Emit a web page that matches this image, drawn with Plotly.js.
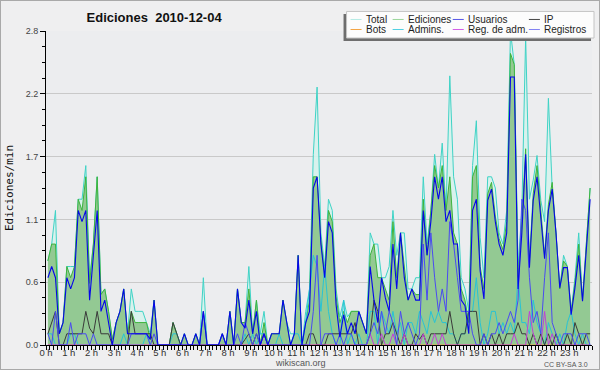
<!DOCTYPE html>
<html>
<head>
<meta charset="utf-8">
<script src="https://cdn.plot.ly/plotly-3.0.1.min.js"></script>
<style>
  html, body { margin: 0; padding: 0; background: #efeff0; }
  #wrap { position: absolute; left: 0; top: 0; width: 598px; height: 368px; border: 1px solid #a9a9a9; }
  #chart { width: 598px; height: 368px; }
</style>
</head>
<body>
<div id="wrap"><div id="chart"></div></div>
<script>
// ---- data: one value per 10-minute slot (edits per minute), 24 h x 6 slots ----
const hourLabels = ["0 h","1 h","2 h","3 h","4 h","5 h","6 h","7 h","8 h","9 h","10 h","11 h",
                    "12 h","13 h","14 h","15 h","16 h","17 h","18 h","19 h","20 h","21 h","22 h","23 h"];
const yTickVals = [0, 0.56, 1.12, 1.68, 2.24, 2.8];
const yTickText = ["0.0", "0.6", "1.1", "1.7", "2.2", "2.8"];

const total = [
  0.75,0.9,1.2,0.1,0.2,0.7,   0.7,0.7,1.3,1.3,1.6,0.6,   0.9,1.5,0.45,0.5,0.3,0.05,
  0.2,0.3,0.5,0.1,0.5,0.3,    0.3,0.3,0.2,0.1,0.4,0,     0,0,0,0.2,0.1,0,
  0.1,0,0,0.1,0,0.6,          0,0,0,0,0.1,0,             0.3,0,0.5,0.2,0.2,0.7,
  0.1,0.4,0.1,0.3,0,0.1,      0.1,0.1,0.4,0.2,0.1,0.1,   0.8,0,0.3,0.5,1.7,2.3,
  1.0,0.7,1.3,1.2,0.5,0.25,   0.4,0.25,0.3,0.3,0.3,0.2,  0.1,1.0,0.9,0.9,0.6,0.6,
  0.7,1.2,0.8,1.0,1.0,0.5,    0.5,0.6,0.6,1.5,0.9,1.2,   1.7,1.4,1.8,1.2,2.4,1.5,
  1.3,0.6,0.5,0.3,1.6,2.0,    0.96,0.6,1.5,1.5,1.4,1.0,  0.9,1.2,2.8,2.5,0.7,1.2,
  2.75,1.3,1.47,1.69,1.29,1.1, 2.2,1.4,1.0,0.5,0.8,0.7,  0.3,0.6,1.0,0.4,0.9,1.4
];
const ediciones = [
  0.75,0.9,0.9,0.1,0.2,0.7,   0.6,0.7,1.3,1.2,1.5,0.55,  0.9,1.5,0.45,0.5,0.3,0.05,
  0.2,0.3,0.5,0.1,0.3,0.2,    0.2,0.2,0.2,0.05,0.4,0,    0,0,0,0.2,0.1,0,
  0.1,0,0,0.1,0,0.3,          0,0,0,0,0.1,0,             0.3,0,0.5,0.2,0.2,0.5,
  0.1,0.4,0,0.2,0,0.1,        0.1,0.1,0.4,0.2,0,0.1,     0.8,0,0.2,0.4,1.5,1.5,
  0.93,0.63,1.2,1.1,0.43,0.2, 0.3,0.2,0.3,0.3,0.3,0.2,   0.1,0.8,0.9,0.6,0.6,0.5,
  0.4,1.1,0.6,1.0,0.7,0.4,    0.5,0.45,0.45,1.3,0.8,1.2, 1.6,1.4,1.6,1.2,1.5,1.0,
  0.9,0.5,0.4,0.2,1.5,1.6,    0.7,0.5,1.35,1.45,1.15,0.95, 0.85,1.1,2.6,2.5,0.6,1.1,
  1.75,0.75,1.35,1.6,1.2,0.8, 1.25,1.45,1.0,0.5,0.75,0.7, 0.3,0.55,0.9,0.4,0.9,1.4
];
const usuarios = [
  0.6,0.7,0.6,0.1,0.2,0.6,    0.5,0.6,1.2,1.1,1.2,0.4,   0.8,1.2,0.3,0.4,0.2,0,
  0.2,0.3,0.5,0.1,0.1,0.1,    0.1,0.1,0.1,0.05,0.4,0,    0,0,0,0,0,0,
  0.1,0,0,0.1,0,0.3,          0,0,0,0,0.1,0,             0.3,0,0.5,0.2,0.15,0.4,
  0.1,0.3,0,0.1,0,0.1,        0.1,0.1,0.4,0.2,0,0.1,     0.8,0,0.2,0.3,1.4,1.5,
  0.9,0.6,1.1,1.0,0.36,0.07,  0.27,0.1,0.2,0.1,0.3,0.2,  0.1,0.7,0.4,0.2,0.6,0.42,
  0.3,0.9,0.5,1.0,0.6,0.4,    0.5,0.4,0.4,1.2,0.8,1.1,   1.5,1.3,1.5,1.1,1.2,0.9,
  0.9,0.4,0.35,0.1,1.2,1.3,   0.66,0.41,1.29,1.39,1.1,0.9, 0.8,1.0,2.39,2.39,0.5,1.0,
  1.7,0.69,1.29,1.5,1.1,0.77, 1.2,1.39,1.0,0.51,0.69,0.69, 0.27,0.51,0.8,0.39,0.85,1.3
];
const ip = [
  0.1,0.2,0.3,0,0,0.1,        0.1,0.1,0.1,0.1,0.3,0.15,  0.1,0.3,0.1,0.1,0.1,0,
  0,0,0,0,0.3,0.1,            0.1,0.1,0.1,0.1,0,0,       0,0,0,0.2,0.1,0,
  0,0,0,0,0,0,                0,0,0,0,0,0,               0,0,0,0,0.05,0.1,
  0,0.1,0,0.1,0,0,            0,0,0,0,0,0,               0,0,0,0.1,0.1,0,
  0,0,0.1,0.1,0.1,0.1,        0.1,0.1,0.1,0.2,0,0,       0,0.1,0.4,0.3,0,0.1,
  0.1,0.2,0.1,0,0.1,0,        0,0.1,0.05,0.1,0,0.1,      0.1,0.1,0.1,0.1,0.3,0.1,
  0,0.1,0.1,0.3,0.3,0.3,      0,0.1,0,0.1,0,0.1,         0,0.1,0.1,0.1,0.2,0.1,
  0.1,0,0.1,0,0.1,0,          0.1,0,0.1,0,0,0.1,         0,0.2,0.1,0,0.1,0.1
];
const bots = new Array(144).fill(0);
const admins = [
  0.1,0.1,0,0,0,0,            0.1,0.1,0,0,0,0,           0,0,0,0,0,0,
  0,0,0.1,0,0,0,              0,0,0.1,0,0,0,             0,0,0,0.1,0.1,0,
  0,0,0,0,0,0,                0,0,0,0,0,0,               0,0,0,0,0.1,0,
  0.1,0,0.1,0.1,0,0,          0,0.1,0,0,0,0.1,           0.1,0,0.2,0.5,0.8,0.7,
  0.3,0.7,0.3,0.1,0,0,        0.4,0,0.1,0,0.1,0,         0,0.3,0.3,0,0.3,0.2,
  0.1,0.3,0.1,0.2,0,0.2,      0.2,0.1,0.3,0.2,0.1,0.3,   0.2,0.3,0.2,0.2,0.1,0.1,
  0,0.1,0.1,0.3,0.3,0.6,      0.2,0,0.1,0.3,0.3,0.1,     0.2,0.1,0.2,0.1,0.6,0.2,
  0.2,0.1,0.4,0.2,0.1,0,      0.2,0.1,0,0.1,0,0.2,       0.3,0.1,0,0.1,0,0
];
const regAdm = [
  0,0,0,0,0,0, 0,0,0,0,0,0, 0,0,0,0,0,0, 0,0,0,0,0,0, 0,0,0,0,0,0, 0,0,0,0,0,0,
  0,0,0,0,0,0, 0,0,0,0,0,0, 0,0,0,0,0,0, 0,0,0,0,0,0, 0,0,0,0,0,0, 0,0,0,0,0,0,
  0,0,0,0,0,0, 0,0,0,0,0,0, 0,0.1,0,0,0.1,0, 0,0.1,0,0,0.1,0, 0,0,0,0.1,0,0, 0.1,0,0.1,0,0,0,
  0,0,0,0,0,0, 0,0,0,0,0,0, 0,0,0,0.1,0,0, 0,0.3,0.1,0,0,0.3, 0,0.1,0,0,0,0, 0,0,0,0,0,0
];
const registros = [
  0.1,0,0.3,0,0,0,            0.2,0,0.1,0.1,0.1,0,       0.1,0,0,0,0,0,
  0,0,0,0,0.1,0.1,            0.1,0.1,0.1,0,0.1,0,       0,0,0,0,0,0,
  0,0,0,0,0,0.3,              0,0,0,0,0.1,0,             0,0,0.1,0,0.2,0.1,
  0,0.1,0,0.1,0,0,            0,0,0,0,0,0,               0,0,0,0,0.3,0.8,
  0,0.1,0.1,0.1,0,0.1,        0,0.1,0.1,0,0,0,           0,0.1,0.2,0.1,0.3,0.1,
  0.3,0.2,0,0.3,0.1,0.2,      0.1,0,0.1,0.9,0.4,1.0,     0.6,0.3,0.5,0.3,1.1,0.9,
  0.6,0.3,0.3,0.3,0.1,0,      0,0.1,0,0.1,0.1,0.2,       0.1,0.2,0.3,0.2,0.4,1.3,
  1.2,0.6,0.2,0.3,0.1,0.6,    1.0,0.2,0.1,0,0.1,0.1,     0.1,0,0.1,0.1,0.1,0
];

// slot centres in hours
const xs = total.map((_, i) => (i + 0.5) / 6);

function line(name, y, color, width, extra) {
  return Object.assign({type: 'scatter', mode: 'lines', name: name, x: xs, y: y,
    line: {color: color, width: width}, showlegend: false, hoverinfo: 'skip'}, extra || {});
}

const traces = [
  line('Total', total, '#3fd3c6', 1, {fill: 'tozeroy', fillcolor: 'rgba(214,242,236,0.9)'}),
  line('Ediciones', ediciones, '#3db43d', 1, {fill: 'tozeroy', fillcolor: '#93c993'}),
  line('Bots', bots, '#f0a040', 1),
  line('Admins.', admins, '#27c3d6', 1),
  line('IP', ip, '#3a3a3a', 1),
  line('Reg. de adm.', regAdm, '#c040d8', 1),
  line('Registros', registros, '#4a4af2', 1),
  line('Usuarios', usuarios, '#0606ea', 1.1)
];

// --- pixel helpers for the legend box (page pixels -> paper coords) ---
const PL = 46, PR = 591, PT = 31, PB = 344;
const px = X => (X - PL) / (PR - PL);
const py = Y => (PB - Y) / (PB - PT);

const legendItems = [
  {t: 'Total', c: '#b4ebe4', col: 0, row: 0},
  {t: 'Ediciones', c: '#9ad69a', col: 1, row: 0},
  {t: 'Usuarios', c: '#5656e6', col: 2, row: 0},
  {t: 'IP', c: '#444444', col: 3, row: 0},
  {t: 'Bots', c: '#f3a444', col: 0, row: 1},
  {t: 'Admins.', c: '#4fd0e2', col: 1, row: 1},
  {t: 'Reg. de adm.', c: '#d25ee6', col: 2, row: 1},
  {t: 'Registros', c: '#8282f2', col: 3, row: 1}
];
const colSw = [350, 392, 452, 528];
const rowY = [19.5, 29.5];

const shapes = [
  // shadow
  {type: 'rect', xref: 'paper', yref: 'paper', x0: px(343), x1: px(590), y0: py(41), y1: py(14),
   fillcolor: '#6e6e6e', line: {width: 0}, layer: 'above'},
  // box
  {type: 'rect', xref: 'paper', yref: 'paper', x0: px(346), x1: px(593), y0: py(38), y1: py(11.5),
   fillcolor: '#fcfcfc', line: {color: '#c4c4c4', width: 1}, layer: 'above'}
];
const annotations = [];
legendItems.forEach(it => {
  const xa = colSw[it.col], yy = rowY[it.row];
  shapes.push({type: 'line', xref: 'paper', yref: 'paper', x0: px(xa), x1: px(xa + 11), y0: py(yy), y1: py(yy),
    line: {color: it.c, width: 1}, layer: 'above'});
  annotations.push({xref: 'paper', yref: 'paper', x: px(xa + 13), y: py(yy), xanchor: 'left', yanchor: 'middle',
    text: it.t, showarrow: false, font: {family: 'Liberation Sans, Arial, sans-serif', size: 10, color: '#1e1e1e'}});
});
annotations.push({xref: 'paper', yref: 'paper', x: px(300), y: py(362), xanchor: 'center', yanchor: 'middle',
  text: 'wikiscan.org', showarrow: false, font: {family: 'Liberation Sans, Arial, sans-serif', size: 9, color: '#555'}});
annotations.push({xref: 'paper', yref: 'paper', x: px(589), y: py(363), xanchor: 'right', yanchor: 'middle',
  text: 'CC BY-SA 3.0', showarrow: false, font: {family: 'Liberation Sans, Arial, sans-serif', size: 7, color: '#555'}});

const layout = {
  width: 598, height: 368,
  margin: {l: 45, r: 7, t: 30, b: 24},
  paper_bgcolor: '#efeff0',
  plot_bgcolor: '#ecedef',
  showlegend: false,
  title: {text: '<b>Ediciones\u00a0\u00a02010-12-04</b>', xref: 'container', yref: 'container',
          x: 0.256, xanchor: 'center', y: 0.955, yanchor: 'middle',
          font: {family: 'Liberation Sans, Arial, sans-serif', size: 13, color: '#111'}},
  xaxis: {
    range: [0, 24], tickmode: 'array', tickvals: hourLabels.map((_, i) => i), ticktext: hourLabels,
    ticks: 'outside', ticklen: 4, tickcolor: '#000', tickwidth: 1, ticklabelstandoff: -5,
    showline: true, linecolor: '#000', linewidth: 1, showgrid: false, zeroline: false,
    tickfont: {family: 'Liberation Sans, Arial, sans-serif', size: 9.5, color: '#333'},
    minor: {tickmode: 'linear', tick0: 0, dtick: 1 / 6, ticks: 'outside', ticklen: 4, tickcolor: '#000', showgrid: false},
    fixedrange: true
  },
  yaxis: {
    range: [0, 2.8], tickmode: 'array', tickvals: yTickVals, ticktext: yTickText,
    ticks: 'outside', ticklen: 5, tickcolor: '#000', tickwidth: 1,
    showline: true, linecolor: '#000', linewidth: 1,
    showgrid: true, gridcolor: '#c9c9c9', gridwidth: 1, zeroline: false,
    tickfont: {family: 'Liberation Sans, Arial, sans-serif', size: 9, color: '#444'},
    minor: {tickmode: 'linear', tick0: 0, dtick: 0.14, ticks: 'outside', ticklen: 3, tickcolor: '#000', showgrid: false},
    title: {text: 'Ediciones/min', standoff: 9,
            font: {family: 'DejaVu Sans Mono, monospace', size: 11, color: '#111'}},
    fixedrange: true
  },
  shapes: shapes,
  annotations: annotations
};

Plotly.newPlot('chart', traces, layout, {displayModeBar: false, staticPlot: true});
</script>
</body>
</html>
